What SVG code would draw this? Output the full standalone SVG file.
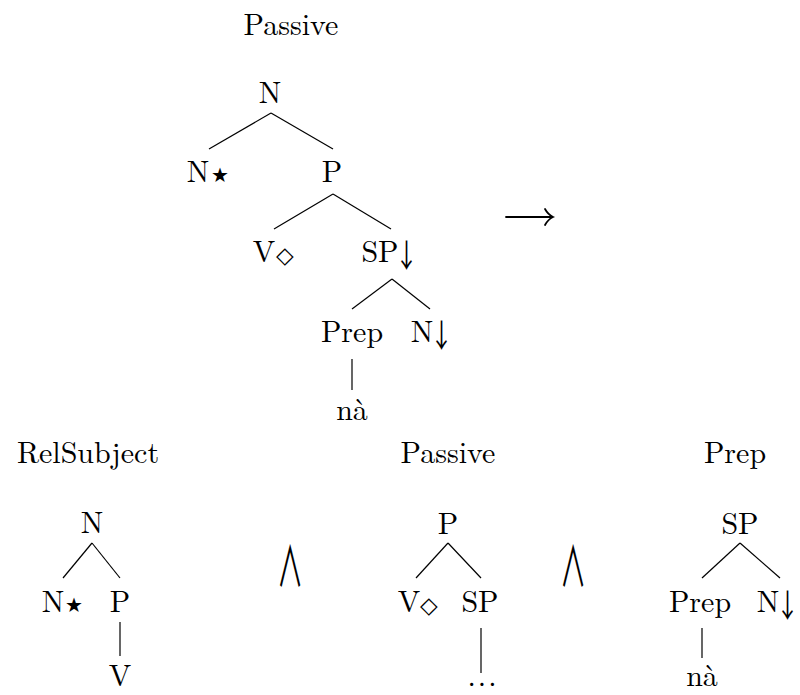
<svg xmlns="http://www.w3.org/2000/svg" width="800" height="695" viewBox="0 0 800 695">
<style>
.e line,.e path{stroke:#000;stroke-width:1.2;fill:none}
.arr line,.arr path{stroke:#000;stroke-width:1.8;fill:none;stroke-linecap:round}
</style>
<defs>
<text id="star" font-family="DejaVu Sans, sans-serif" font-size="20" text-anchor="start">★</text>
<text id="dia" font-family="DejaVu Sans, sans-serif" font-size="23" text-anchor="start">◇</text>
<text id="down" font-family="Noto Sans CJK SC, DejaVu Sans, sans-serif" font-size="32" text-anchor="start">↓</text>
<text id="wedge" font-family="Noto Sans CJK SC, sans-serif" font-size="46" text-anchor="middle">∧</text>
</defs>
<rect width="800" height="695" fill="#fff"/>
<g font-family="Latin Modern Roman, Liberation Serif, serif" font-size="30" text-anchor="middle" fill="#000">
<g id="titles">
<text x="291" y="35">Passive</text>
<text x="88" y="463">RelSubject</text>
<text x="448" y="463">Passive</text>
<text x="735" y="463">Prep</text>
</g>
<g id="top-tree">
<g id="t-N"><text x="270" y="103">N</text></g>
<g id="t-Nstar"><text x="198" y="182">N</text><use href="#star" x="211" y="182"/></g>
<g id="t-P"><text x="332" y="182">P</text></g>
<g id="t-Vdia"><text x="264" y="262">V</text><use href="#dia" x="276" y="263"/></g>
<g id="t-SP"><text x="380" y="262">SP</text><use href="#down" transform="translate(395,267) scale(0.72,1)"/></g>
<g id="t-Prep"><text x="352" y="342">Prep</text></g>
<g id="t-Ndown"><text x="422" y="342">N</text><use href="#down" transform="translate(430,347) scale(0.72,1)"/></g>
<g id="t-na"><text x="352" y="420">nà</text></g>
</g>
<g id="rel-tree">
<g id="r-N"><text x="92" y="533">N</text></g>
<g id="r-Nstar"><text x="53" y="612">N</text><use href="#star" x="65" y="612"/></g>
<g id="r-P"><text x="120" y="612">P</text></g>
<g id="r-V"><text x="120" y="686">V</text></g>
</g>
<g id="pas-tree">
<g id="p-P"><text x="448" y="534">P</text></g>
<g id="p-Vdia"><text x="409" y="612">V</text><use href="#dia" x="420" y="613"/></g>
<g id="p-SP"><text x="480" y="612">SP</text></g>
<g id="p-dots"><text x="483" y="686" letter-spacing="2">...</text></g>
</g>
<g id="prep-tree">
<g id="q-SP"><text x="740" y="534">SP</text></g>
<g id="q-Prep"><text x="700" y="612">Prep</text></g>
<g id="q-Ndown"><text x="768" y="612">N</text><use href="#down" transform="translate(776,617) scale(0.72,1)"/></g>
<g id="q-na"><text x="702" y="686">nà</text></g>
</g>
</g>
<g id="and1"><use href="#wedge" transform="translate(290,587) scale(0.57,1.2)"/></g>
<g id="and2"><use href="#wedge" transform="translate(573,587) scale(0.57,1.2)"/></g>
<g id="arrow" class="arr"><line x1="506" y1="217" x2="552" y2="217"/><path d="M545,209 Q548,214.5 553,217 Q548,219.5 545,225"/></g>
<g id="connectors" class="e">
<line x1="271" y1="113" x2="209" y2="149"/>
<line x1="271" y1="113" x2="333" y2="149"/>
<line x1="333" y1="194" x2="274" y2="229"/>
<line x1="333" y1="194" x2="391" y2="229"/>
<line x1="392" y1="279" x2="352" y2="309"/>
<line x1="392" y1="279" x2="430" y2="309"/>
<line x1="352" y1="359" x2="352" y2="390"/>
<line x1="92" y1="543" x2="63" y2="578"/>
<line x1="92" y1="543" x2="120" y2="578"/>
<line x1="120" y1="622" x2="120" y2="656"/>
<line x1="448" y1="543" x2="416" y2="578"/>
<line x1="448" y1="543" x2="481" y2="578"/>
<line x1="481" y1="628" x2="481" y2="673"/>
<line x1="740" y1="543" x2="702" y2="578"/>
<line x1="740" y1="543" x2="780" y2="578"/>
<line x1="702" y1="628" x2="702" y2="658"/>
</g>
</svg>
